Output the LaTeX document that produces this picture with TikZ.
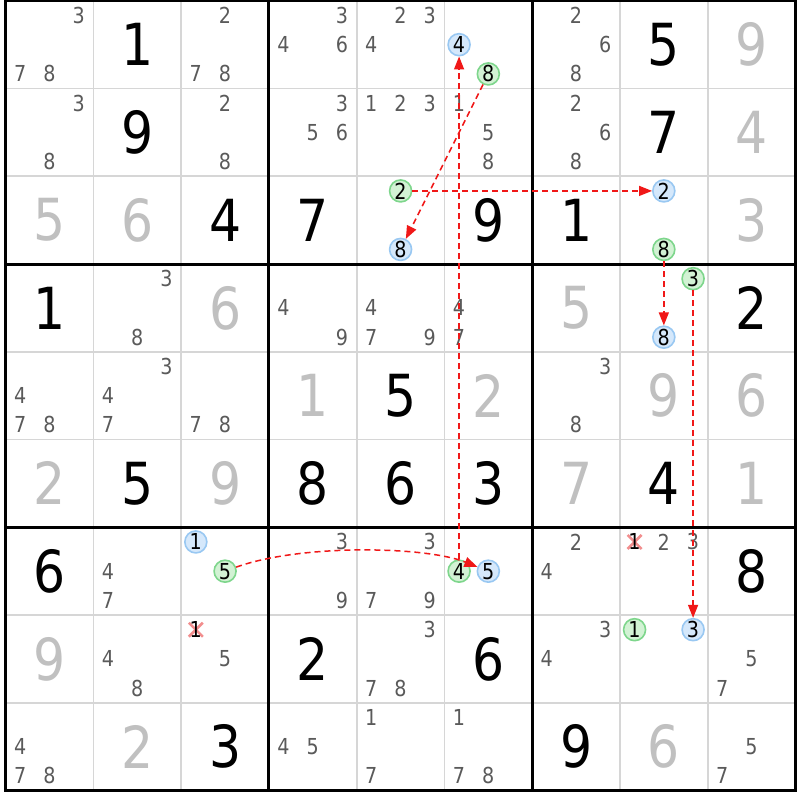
\documentclass[tikz,border=0pt]{standalone}
\usepackage{fontspec}
\setmainfont{DejaVu Sans}[FakeStretch=0.87]
\usetikzlibrary{arrows.meta}
\definecolor{candc}{HTML}{5A5A5A}
\definecolor{solvc}{HTML}{C0C0C0}
\definecolor{thinc}{HTML}{D6D6D6}
\definecolor{bfill}{HTML}{D5E8FB}
\definecolor{bline}{HTML}{99C8F2}
\definecolor{gfill}{HTML}{D2F2D4}
\definecolor{gline}{HTML}{7ED68C}
\definecolor{arrc}{HTML}{F01818}
\definecolor{crossc}{HTML}{F28E8E}
\newcommand\PX[2]{5.7+87.75*(#1-0.5)+29.25*(mod(#2-1,3)-1)}
\newcommand\PY[2]{0.8+87.75*(#1-0.5)+29.25*(int((#2-1)/3)-1)}
\newcommand\HL[5]{\node[#1] (#2) at ({\PX{#4}{#5}},{\PY{#3}{#5}}) {#5};}
\newcommand\XC[3]{%
  \draw[xmark] ({\PX{#2}{#3}-7},{\PY{#1}{#3}-7}) -- ({\PX{#2}{#3}+7},{\PY{#1}{#3}+7});
  \draw[xmark] ({\PX{#2}{#3}-7},{\PY{#1}{#3}+7}) -- ({\PX{#2}{#3}+7},{\PY{#1}{#3}-7});
  \node[cand,text=black] (x-#1-#2) at ({\PX{#2}{#3}},{\PY{#1}{#3}}) {#3};}
\begin{document}
\begin{tikzpicture}[x=1pt,y=-1pt,
  giv/.style={font=\fontsize{58}{58}\selectfont, text=black, inner sep=0pt},
  solv/.style={giv, text=solvc},
  cand/.style={font=\fontsize{22}{22}\selectfont, text=candc, inner sep=0pt},
  hl/.style={circle, minimum size=22pt, inner sep=0pt, line width=1.6pt, text=black, font=\fontsize{22}{22}\selectfont},
  hlb/.style={hl, draw=bline, fill=bfill},
  hlg/.style={hl, draw=gline, fill=gfill},
  arr/.style={draw=arrc, line width=1.5pt, dash pattern=on 6pt off 4pt, -{Triangle[length=13pt,width=10pt]}},
  xmark/.style={draw=crossc, line width=2.6pt},
  thinline/.style={draw=thinc, line width=1.8pt},
  thickline/.style={draw=black, line width=3pt}
]
\fill[white] (0,0) rectangle (800,800);
\useasboundingbox (0,0) rectangle (800,800);
% grid
\foreach \i in {1,2,4,5,7,8} {
  \draw[thinline] ({5.7+87.75*\i},0.8) -- ({5.7+87.75*\i},790.55);
  \draw[thinline] (5.7,{0.8+87.75*\i}) -- (795.45,{0.8+87.75*\i});
}
\foreach \i in {0,3,6,9} {
  \draw[thickline] ({5.7+87.75*\i},-0.7) -- ({5.7+87.75*\i},792.05);
  \draw[thickline] (4.2,{0.8+87.75*\i}) -- (796.95,{0.8+87.75*\i});
}
% givens
\foreach \r/\c/\d in {1/2/1,1/8/5,2/2/9,2/8/7,3/3/4,3/4/7,3/6/9,3/7/1,4/1/1,4/9/2,5/5/5,6/2/5,6/4/8,6/5/6,6/6/3,6/8/4,7/1/6,7/9/8,8/4/2,8/6/6,9/3/3,9/7/9}
  \node[giv] (v-\r-\c) at ({5.7+87.75*(\c-0.5)},{0.8+87.75*(\r-0.5)}) {\d};
% solved
\foreach \r/\c/\d in {1/9/9,2/9/4,3/1/5,3/2/6,3/9/3,4/3/6,4/7/5,5/4/1,5/6/2,5/8/9,5/9/6,6/1/2,6/3/9,6/7/7,6/9/1,8/1/9,9/2/2,9/8/6}
  \node[solv] (s-\r-\c) at ({5.7+87.75*(\c-0.5)},{0.8+87.75*(\r-0.5)}) {\d};
% candidates
\foreach \r/\c/\L in {1/1/{3,7,8},1/3/{2,7,8},1/4/{3,4,6},1/5/{2,3,4},1/7/{2,6,8},
  2/1/{3,8},2/3/{2,8},2/4/{3,5,6},2/5/{1,2,3},2/6/{1,5,8},2/7/{2,6,8},
  4/2/{3,8},4/4/{4,9},4/5/{4,7,9},4/6/{4,7},
  5/1/{4,7,8},5/2/{3,4,7},5/3/{7,8},5/7/{3,8},
  7/2/{4,7},7/4/{3,9},7/5/{3,7,9},7/7/{2,4},7/8/{2,3},
  8/2/{4,8},8/3/{5},8/5/{3,7,8},8/7/{3,4},8/9/{5,7},
  9/1/{4,7,8},9/4/{4,5},9/5/{1,7},9/6/{1,7,8},9/9/{5,7}} {
  \foreach \p in \L {
    \node[cand] (c-\r-\c-\p) at ({\PX{\c}{\p}},{\PY{\r}{\p}}) {\p};
  }
}
% eliminated candidates
\XC{7}{8}{1}
\XC{8}{3}{1}
% highlighted candidates
\HL{hlb}{b164}{1}{6}{4}
\HL{hlg}{g168}{1}{6}{8}
\HL{hlg}{g352}{3}{5}{2}
\HL{hlb}{b358}{3}{5}{8}
\HL{hlb}{b382}{3}{8}{2}
\HL{hlg}{g388}{3}{8}{8}
\HL{hlg}{g483}{4}{8}{3}
\HL{hlb}{b488}{4}{8}{8}
\HL{hlb}{b731}{7}{3}{1}
\HL{hlg}{g735}{7}{3}{5}
\HL{hlg}{g764}{7}{6}{4}
\HL{hlb}{b765}{7}{6}{5}
\HL{hlg}{g881}{8}{8}{1}
\HL{hlb}{b883}{8}{8}{3}
% links
\draw[arr] (g168) -- (b358);
\draw[arr] (g352) -- (b382);
\draw[arr] (g764) -- (b164);
\draw[arr] (g388) -- (b488);
\draw[arr] (g483) -- (b883);
\draw[arr] (g735) .. controls (300,544) and (425,546) .. (b765);
\end{tikzpicture}
\end{document}
